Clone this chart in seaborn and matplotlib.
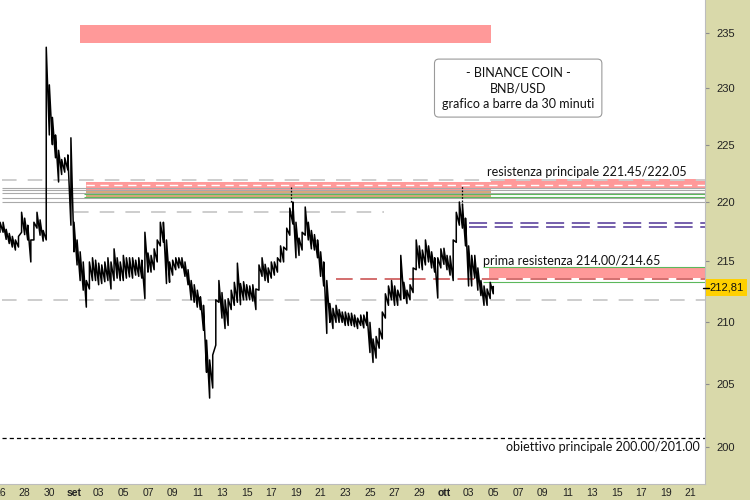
import numpy as np
import pandas as pd
import matplotlib
matplotlib.use("Agg")
import matplotlib.pyplot as plt
import matplotlib.dates as mdates
from matplotlib.ticker import NullLocator
import seaborn as sns

# ---------------- data ----------------
bar_start = "2023-08-26 00:00"   # 6-hour bins of the 30-minute chart
bar_high = [218.3, 218.3, 217.7, 217.35, 217.1, 216.8, 217.1, 219.15, 218.65, 218.05,
            216.8, 218.3, 219.15, 218.5, 217.6, 233.7, 230.3, 227.4, 225.85, 224.5,
            223.7, 223.85, 224.1, 225.6, 218.3, 216.8, 215.8, 214.95, 213.4, 214.95,
            215.3, 215.1, 214.85, 214.7, 214.95, 215.3, 214.95, 216.05, 215.3, 214.95,
            215.5, 215.3, 215.3, 215.3, 215.1, 215.3, 215.1, 217.45, 215.7, 215.5,
            216.05, 216.8, 218.3, 218.3, 216.8, 214.95, 215.1, 215.3, 215.3, 215.3,
            214.95, 214.3, 213.4, 213.05, 212.6, 212.05, 211.35, 208.5, 206.9, 207.3,
            211.8, 213.4, 212.4, 211.8, 211.9, 212.6, 213.25, 214.85, 213.15, 213.3,
            213.05, 212.95, 213.05, 212.7, 214.7, 215.3, 214.75, 214.45, 214.95, 214.95,
            215.3, 216.3, 216.2, 217.8, 219.5, 220.03, 218.3, 216.95, 217.45, 219.6,
            218.3, 217.6, 217.25, 216.8, 215.8, 214.95, 213.4, 211.5, 211.1, 211.35,
            211.0, 210.8, 210.8, 210.7, 210.7, 210.55, 210.3, 210.55, 210.55, 210.8,
            209.95, 208.6, 208.8, 209.45, 210.8, 212.3, 212.95, 213.4, 212.95, 212.6,
            215.5, 213.25, 212.6, 213.05, 214.45, 216.8, 216.3, 215.95, 216.8, 216.3,
            215.8, 215.3, 215.3, 216.05, 216.1, 215.5, 215.45, 216.8, 219.15, 220.03,
            219.85, 218.65, 216.3, 215.5, 215.5, 214.45, 213.4, 212.95, 212.7, 213.25,
            212.9]
bar_low = [217.45, 217.45, 216.85, 216.5, 216.2, 215.95, 216.2, 217.45, 217.25, 216.8,
           214.95, 216.8, 217.8, 217.2, 216.7, 216.8, 225.85, 225.0, 223.85, 221.75,
           222.4, 222.6, 222.8, 218.05, 215.8, 214.7, 213.4, 212.6, 211.2, 212.7,
           213.4, 213.4, 213.05, 213.15, 213.3, 213.4, 212.7, 213.4, 213.6, 213.4,
           213.4, 213.6, 213.7, 213.6, 213.85, 213.75, 213.6, 211.9, 214.1, 214.1,
           214.3, 214.95, 216.3, 216.6, 213.15, 213.25, 213.85, 214.3, 214.45, 214.45,
           213.75, 213.05, 211.8, 211.6, 211.2, 211.0, 209.3, 205.9, 203.85, 204.65,
           208.1, 211.6, 210.3, 209.45, 209.7, 211.0, 211.35, 211.6, 211.4, 211.8,
           211.8, 211.8, 211.7, 211.0, 212.6, 213.75, 213.4, 213.25, 213.6, 213.85,
           214.1, 214.95, 214.95, 215.95, 217.2, 218.15, 215.3, 215.5, 215.95, 217.2,
           216.8, 216.05, 215.95, 215.3, 213.75, 212.95, 209.05, 209.95, 209.45, 209.95,
           209.95, 209.95, 209.7, 209.7, 209.7, 209.6, 209.45, 209.7, 209.5, 209.7,
           207.5, 206.7, 207.05, 207.85, 208.6, 210.3, 211.35, 211.8, 211.35, 211.35,
           211.8, 211.9, 211.5, 211.8, 212.4, 214.3, 214.45, 214.3, 214.7, 214.95,
           214.45, 214.1, 211.95, 214.45, 214.75, 214.3, 213.85, 213.4, 216.6, 218.05,
           217.8, 216.3, 212.95, 212.95, 213.6, 212.6, 212.15, 211.35, 211.35, 211.9,
           212.3]
last_close = 212.81

x_left, x_right = "2023-08-26 04:20", "2023-10-22 04:05"
y_bottom, y_top = 197.14, 238.04

y_ticks = [200, 205, 210, 215, 220, 225, 230, 235]
tick_dates = ["2023-08-26", "2023-08-28", "2023-08-30", "2023-09-01", "2023-09-03",
              "2023-09-05", "2023-09-07", "2023-09-09", "2023-09-11", "2023-09-13",
              "2023-09-15", "2023-09-17", "2023-09-19", "2023-09-21", "2023-09-23",
              "2023-09-25", "2023-09-27", "2023-09-29", "2023-10-01", "2023-10-03",
              "2023-10-05", "2023-10-07", "2023-10-09", "2023-10-11", "2023-10-13",
              "2023-10-15", "2023-10-17", "2023-10-19", "2023-10-21"]
tick_labels = ["26", "28", "30", "set", "03", "05", "07", "09", "11", "13", "15", "17",
               "19", "21", "23", "25", "27", "29", "ott", "03", "05", "07", "09", "11",
               "13", "15", "17", "19", "21"]
bold_labels = ["set", "ott"]

# zones: (start, end, low, high, colour)
zones = [
    ("2023-09-01 11:40", "2023-10-04 19:00", 234.1, 235.7, "#ff9999"),
    ("2023-09-01 23:20", "2023-10-04 19:00", 220.45, 221.75, "#ff9a9a"),
    ("2023-09-01 23:20", "2023-10-04 19:00", 220.45, 221.0, "#d8a67c"),
    ("2023-10-04 19:00", x_right, 221.2, 222.05, "#ff9999"),
    ("2023-10-04 15:00", x_right, 213.65, 214.45, "#ff9999"),
]
gray_levels = [221.23, 221.06, 220.80, 220.37, 220.03]
light_dash_levels = [221.92, 211.8]
mid_dash = ("2023-09-01 00:00", "2023-09-26 03:20", 219.17)
white_dash = ("2023-09-01 23:20", x_right, 221.5)
green_res = ("2023-09-01 19:00", x_right, [220.75, 220.45])
purple_levels = ("2023-10-03 00:15", x_right, [218.26, 217.92])
red_level = ("2023-09-22 06:15", x_right, 213.5)
green_first = ("2023-10-04 03:36", x_right, [214.55, 213.3])
target_level = 200.7
touch_dates = ["2023-09-18 15:00", "2023-10-02 11:00"]
touch_low = [220.05, 219.8]
touch_high = [221.3, 221.5]

label_res = ("2023-10-04 11:15", 222.6, "resistenza principale 221.45/222.05")
label_first = ("2023-10-04 03:36", 215.0, "prima resistenza 214.00/214.65")
label_target = ("2023-10-21 18:30", 200.0, "obiettivo principale 200.00/201.00")
title_lines = ["- BINANCE COIN -", "BNB/USD", "grafico a barre da 30 minuti"]

# ---------------- styling ----------------
sns.set_theme(style="white")
plt.rcParams["font.family"] = ["Liberation Sans", "DejaVu Sans"]
plt.rcParams["lines.scale_dashes"] = False
khaki = "#d9d9aa"

fig = plt.figure(figsize=(7.5, 5), dpi=100)
fig.patch.set_facecolor(khaki)
ax = fig.add_axes([0, 16 / 500, 705 / 750, 484 / 500])
ax.set_facecolor("white")

T = pd.to_datetime
num = lambda s: mdates.date2num(T(s))

# zones
for s, e, lo, hi, c in zones:
    ax.fill_between([T(s), T(e)], lo, hi, color=c, lw=0, zorder=1)

xl, xr = num(x_left), num(x_right)
for lv in gray_levels:
    ax.hlines(lv, xl, xr, color="#a9a9a9", lw=0.8, zorder=2)
for lv in light_dash_levels:
    ax.hlines(lv, xl, xr, color="#cdcdcd", lw=1.4, linestyles=[(0, (10.5, 8))], zorder=2)
ax.hlines(mid_dash[2], num(mid_dash[0]), num(mid_dash[1]), color="#cdcdcd", lw=1.4,
          linestyles=[(0, (10.5, 8))], zorder=2)
ax.hlines(white_dash[2], num(white_dash[0]), xr, color="white", lw=1.0,
          linestyles=[(0, (6, 4))], zorder=2)
for lv in green_res[2]:
    ax.hlines(lv, num(green_res[0]), xr, color="#5cb85c", lw=0.8, zorder=2)
for lv in purple_levels[2]:
    ax.hlines(lv, num(purple_levels[0]), xr, color="#4f3496", lw=1.1,
              linestyles=[(0, (13, 5.5))], zorder=2)
ax.hlines(red_level[2], num(red_level[0]), xr, color="#c84646", lw=1.1,
          linestyles=[(0, (12, 5.5))], zorder=2)
for lv in green_first[2]:
    ax.hlines(lv, num(green_first[0]), xr, color="#5cb85c", lw=0.8, zorder=2)
ax.hlines(target_level, xl, xr, color="black", lw=0.9, linestyles=[(0, (3, 2.2))], zorder=2)

# price: a jagged trace through each bin's low and high (dense bar look)
times = pd.date_range(bar_start, periods=len(bar_high), freq="6h")
rows = []
for t, h, l in zip(times, bar_high, bar_low):
    rows += [(t, l), (t, h)]
rows.append((times[-1], last_close))
df = pd.DataFrame(rows, columns=["time", "price"])
sns.lineplot(data=df, x="time", y="price", estimator=None, sort=False,
             color="black", lw=1.1, ax=ax, zorder=3)

ax.vlines([num(d) for d in touch_dates], touch_low, touch_high, color="black",
          lw=0.9, linestyles=[(0, (1.2, 1.2))], zorder=3)

# labels
lab_font = dict(family=["Lato", "DejaVu Sans"], fontsize=9, color="#111111")
ax.text(T(label_res[0]), label_res[1], label_res[2], ha="left", va="center", zorder=4, **lab_font)
ax.text(T(label_first[0]), label_first[1], label_first[2], ha="left", va="center", zorder=4, **lab_font)
ax.text(T(label_target[0]), label_target[1], label_target[2], ha="right", va="center", zorder=4, **lab_font)
ax.text(0.735, 0.818, "\n".join(title_lines), transform=ax.transAxes, ha="center",
        va="center", linespacing=1.35, family=["Lato", "DejaVu Sans"], fontsize=9,
        color="#111111", zorder=5,
        bbox=dict(boxstyle="round,pad=0.6,rounding_size=0.35", fc="white", ec="#9a9a9a", lw=0.8))

# axes
ax.set_yscale("log")
ax.set_xlim(T(x_left), T(x_right))
ax.set_ylim(y_bottom, y_top)
ax.yaxis.tick_right()
ax.set_yticks(y_ticks)
ax.set_yticklabels([str(v) for v in y_ticks])
ax.yaxis.set_minor_locator(NullLocator())
ax.tick_params(axis="y", which="major", right=True, length=3, width=0.8, color="#8c8c8c",
               pad=5, labelsize=8, labelcolor="#222222")
ax.set_xticks(T(tick_dates))
ax.set_xticklabels(tick_labels)
ax.xaxis.set_minor_locator(NullLocator())
ax.tick_params(axis="x", which="major", bottom=True, length=0, pad=3, labelsize=7.5,
               labelcolor="#222222")
for lbl in ax.get_xticklabels():
    if lbl.get_text() in bold_labels:
        lbl.set_fontweight("bold")
ax.set_xlabel("")
ax.set_ylabel("")
for side in ["top", "left"]:
    ax.spines[side].set_visible(False)
for side in ["right", "bottom"]:
    ax.spines[side].set_color("#bdbdbd")
    ax.spines[side].set_linewidth(0.8)

# current price tag
ax.plot([0.997, 1.006], [last_close, last_close], transform=ax.get_yaxis_transform(),
        color="black", lw=1.0, clip_on=False, zorder=6)
ax.annotate(f"{last_close:.2f}".replace(".", ","), xy=(1, last_close),
            xycoords=("axes fraction", "data"), xytext=(3, 0), textcoords="offset points",
            ha="left", va="center", fontsize=8, color="#111111", annotation_clip=False,
            bbox=dict(boxstyle="square,pad=0.3", fc="#ffd000", ec="none"))

fig.savefig("out.png", dpi=100, facecolor=fig.get_facecolor())
